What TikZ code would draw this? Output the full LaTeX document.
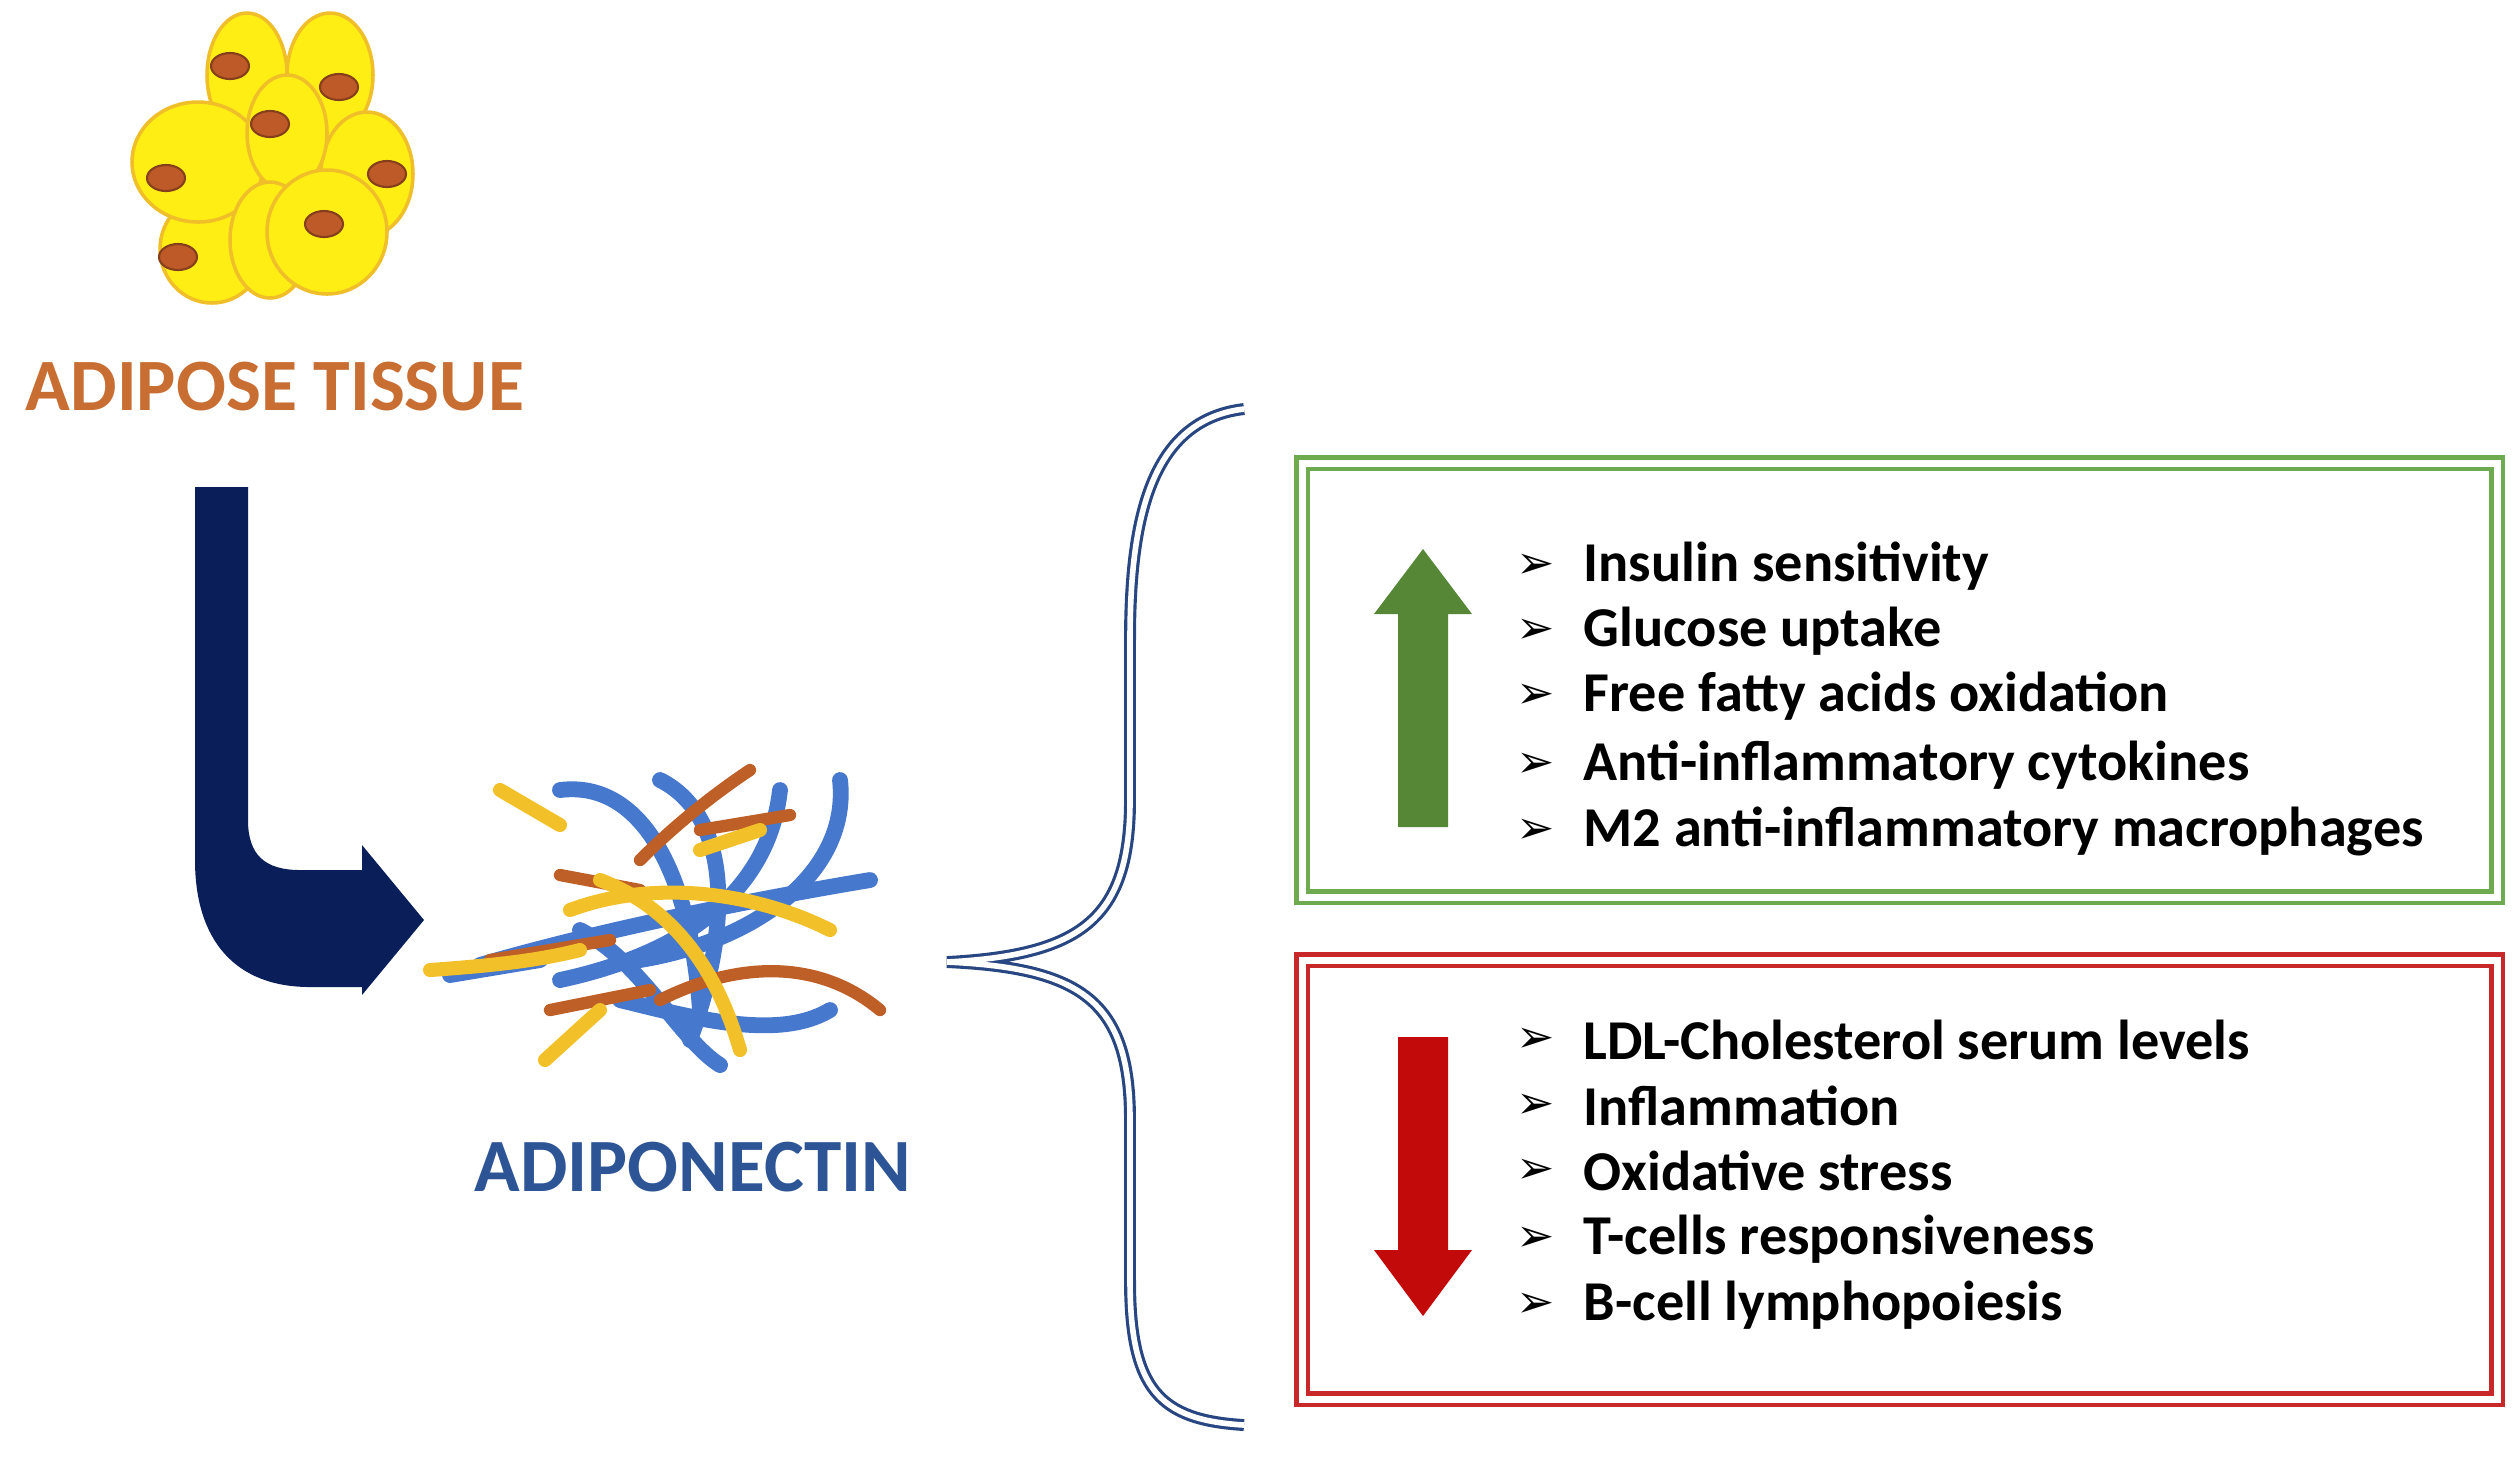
\documentclass[tikz,border=0pt]{standalone}
\usepackage{fontspec}
\setmainfont{Carlito}
\newfontfamily\djv{DejaVu Sans}
\usetikzlibrary{arrows.meta}
\definecolor{cellY}{RGB}{255,238,20}
\definecolor{cellE}{RGB}{240,190,40}
\definecolor{nuc}{RGB}{190,90,40}
\definecolor{orng}{RGB}{200,110,50}
\definecolor{navy}{RGB}{10,30,90}
\definecolor{fblue}{RGB}{70,120,205}
\definecolor{fgold}{RGB}{242,192,40}
\definecolor{fbrown}{RGB}{190,95,40}
\definecolor{adtxt}{RGB}{45,85,150}
\definecolor{gbox}{RGB}{110,170,80}
\definecolor{rbox}{RGB}{200,40,40}
\definecolor{garr}{RGB}{85,135,55}
\definecolor{rarr}{RGB}{195,10,10}
\definecolor{brc}{RGB}{40,70,130}
\tikzset{
  cell/.style={fill=cellY,draw=cellE,line width=1pt},
  nucl/.style={fill=nuc,draw=nuc!70!black,line width=0.6pt},
  fb/.style={draw=fblue,line width=4.5pt,line cap=round},
  fg/.style={draw=fgold,line width=4pt,line cap=round},
  fr/.style={draw=fbrown,line width=3.5pt,line cap=round},
  item/.style={anchor=west,font=\fontsize{16}{18}\selectfont\bfseries,inner sep=0pt},
  bul/.style={anchor=west,font=\djv\fontsize{13}{15}\selectfont,inner sep=0pt},
}
\begin{document}
\begin{tikzpicture}[x=0.01cm,y=-0.01cm]
\useasboundingbox (0,0) rectangle (2516,1459);
% cells
\draw[cell] (247,75) ellipse (40 and 62);
\draw[cell] (330,75) ellipse (43 and 62);
\draw[cell] (367,174) ellipse (46 and 62);
\draw[cell] (212,249) ellipse (52 and 54);
\draw[cell] (198,162) ellipse (66 and 60);
\draw[cell] (287,133) ellipse (40 and 58);
\draw[cell] (270,240) ellipse (40 and 58);
\draw[cell] (327,232) ellipse (60 and 62);
\foreach \p in {(230,66),(339,87),(270,124),(166,178),(387,174),(324,224),(178,257)}
  \draw[nucl] \p ellipse (19 and 13);
\node[text=orng,font=\fontsize{21}{24}\selectfont\bfseries,inner sep=0pt] (adt) at (275,387) {ADIPOSE TISSUE};
% navy arrow
\fill[navy] (195,487) -- (248,487) -- (248,820) .. controls (248,855) and (265,870) .. (300,870)
  -- (362,870) -- (362,845) -- (424,920) -- (362,995) -- (362,987) -- (310,987)
  .. controls (235,987) and (195,940) .. (195,860) -- cycle;
% adiponectin tangle
\draw[fb] (560,790) .. controls (640,780) and (690,870) .. (700,1010);
\draw[fb] (660,780) .. controls (720,810) and (740,900) .. (690,1040);
\draw[fb] (780,790) .. controls (770,880) and (700,950) .. (560,980);
\draw[fb] (840,780) .. controls (850,870) and (760,940) .. (640,960);
\draw[fb] (480,965) .. controls (600,930) and (750,900) .. (870,880);
\draw[fb] (620,1000) .. controls (700,1020) and (780,1040) .. (830,1010);
\draw[fb] (580,930) .. controls (640,960) and (680,1040) .. (720,1065);
\draw[fb] (450,975) -- (540,960);
\draw[fr] (660,1000) .. controls (740,960) and (820,960) .. (880,1010);
\draw[fr] (490,960) -- (610,940);
\draw[fr] (640,860) .. controls (680,820) and (720,790) .. (750,770);
\draw[fr] (700,830) -- (790,815);
\draw[fr] (550,1010) -- (650,990);
\draw[fr] (560,875) -- (640,890);
\draw[fg] (570,910) .. controls (650,880) and (750,890) .. (830,930);
\draw[fg] (600,880) .. controls (680,910) and (720,980) .. (740,1050);
\draw[fg] (430,970) .. controls (500,965) and (540,960) .. (580,950);
\draw[fg] (600,1010) -- (545,1060);
\draw[fg] (500,790) -- (560,825);
\draw[fg] (700,850) -- (760,830);
\node[text=adtxt,font=\fontsize{21.4}{24}\selectfont\bfseries,inner sep=0pt] (adn) at (693,1167) {ADIPONECTIN};
% brace
\coordinate (bt) at (1244,409);
\coordinate (bb) at (1244,1425);
\coordinate (tip) at (947,962);
\draw[brc,double=white,double distance=1.6pt,line width=0.9pt]
  (bt) .. controls (1150,420) and (1130,520) .. (1130,640)
  -- (1130,800) .. controls (1130,920) and (1080,955) .. (tip)
  .. controls (1080,968) and (1130,1000) .. (1130,1120)
  -- (1130,1280) .. controls (1130,1390) and (1160,1420) .. (bb);
% boxes
\draw[gbox,double=white,double distance=2pt,line width=1.3pt] (1302,463) rectangle (2497,897);
\draw[rbox,double=white,double distance=2pt,line width=1.3pt] (1302,960) rectangle (2497,1399);
% arrows
\fill[garr] (1398,827) -- (1448,827) -- (1448,614) -- (1472,614) -- (1423,549) -- (1374,614) -- (1398,614) -- cycle;
\fill[rarr] (1398,1037) -- (1448,1037) -- (1448,1250) -- (1472,1250) -- (1423,1316) -- (1374,1250) -- (1398,1250) -- cycle;
% items
\foreach \y/\t [count=\i] in {566/Insulin sensitivity,631/Glucose uptake,696/Free fatty acids oxidation,765/Anti-inflammatory cytokines,831/M2 anti-inflammatory macrophages}{
  \node[bul] (gm\i) at (1516,\y) {➢};
  \node[item] (gi\i) at (1583,\y) {\t};
}
\foreach \y/\t [count=\i] in {1040/LDL-Cholesterol serum levels,1106/Inflammation,1171/Oxidative stress,1239/T-cells responsiveness,1305/B-cell lymphopoiesis}{
  \node[bul] (rm\i) at (1516,\y) {➢};
  \node[item] (ri\i) at (1583,\y) {\t};
}
\end{tikzpicture}
\end{document}
